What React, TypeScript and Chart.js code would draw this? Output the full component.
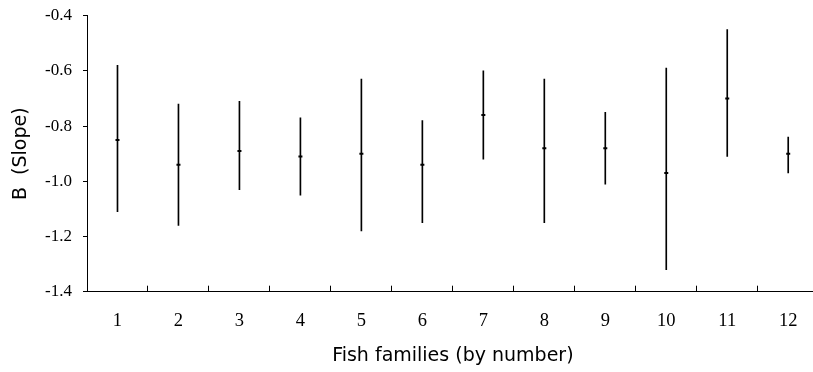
import React, { useEffect, useRef } from "react";
import { Chart, registerables } from "chart.js";

Chart.register(...registerables);

const families = ["1", "2", "3", "4", "5", "6", "7", "8", "9", "10", "11", "12"];
const meanSlope = [-0.85, -0.94, -0.89, -0.91, -0.9, -0.94, -0.76, -0.88, -0.88, -0.97, -0.7, -0.9];
const upperSlope = [-0.58, -0.72, -0.71, -0.77, -0.63, -0.78, -0.6, -0.63, -0.75, -0.59, -0.45, -0.84];
const lowerSlope = [-1.11, -1.16, -1.03, -1.05, -1.18, -1.15, -0.92, -1.15, -1.01, -1.32, -0.91, -0.97];
const yMin = -1.4;
const yMax = -0.4;
const yStep = 0.2;

export default function App() {
  const ref = useRef<HTMLCanvasElement | null>(null);

  useEffect(() => {
    if (!ref.current) return;
    const chart = new Chart(ref.current, {
      type: "bar",
      data: {
        labels: families,
        datasets: [
          {
            type: "bar",
            data: lowerSlope.map((lo, i) => [lo, upperSlope[i]]) as any,
            backgroundColor: "#000",
            borderWidth: 0,
            barThickness: 1,
          },
          {
            type: "line",
            data: meanSlope,
            showLine: false,
            pointStyle: "line",
            pointRadius: 2,
            pointBorderWidth: 2,
            borderColor: "#000",
            pointBorderColor: "#000",
            backgroundColor: "#000",
          } as any,
        ],
      },
      options: {
        animation: false,
        responsive: false,
        maintainAspectRatio: false,
        layout: { padding: { left: 0, right: 11.3, top: 15.7, bottom: 0 } },
        plugins: { legend: { display: false }, tooltip: { enabled: false } },
        scales: {
          x: {
            type: "category",
            offset: true,
            grid: {
              offset: true,
              drawOnChartArea: false,
              drawTicks: true,
              tickLength: -6,
              color: "#000",
            },
            border: { display: true, color: "#000", width: 1 },
            ticks: {
              color: "#000",
              font: { family: "'Liberation Serif', serif", size: 18.5 },
              padding: 24,
              maxRotation: 0,
            },
            title: {
              display: true,
              text: "Fish families (by number)",
              color: "#000",
              font: { family: "'DejaVu Sans', sans-serif", size: 19 },
              padding: { top: 0, bottom: 5 },
            },
            afterFit: (s: any) => {
              s.height = 80.3;
              s.paddingLeft = 0;
              s.paddingRight = 0;
            },
          },
          y: {
            min: yMin,
            max: yMax,
            grid: {
              drawOnChartArea: false,
              drawTicks: true,
              tickLength: 4,
              color: "#000",
            },
            border: { display: true, color: "#000", width: 1 },
            ticks: {
              stepSize: yStep,
              color: "#000",
              font: { family: "'Liberation Serif', serif", size: 17 },
              padding: 11,
              callback: (v: any) => Number(v).toFixed(1),
            },
            title: {
              display: true,
              text: "B  (Slope)",
              color: "#000",
              font: { family: "'DejaVu Sans', sans-serif", size: 19 },
              padding: { top: 10, bottom: 0 },
            },
            afterFit: (s: any) => {
              s.width = 87;
              s.paddingTop = 0;
              s.paddingBottom = 0;
            },
          },
        },
      },
    });
    return () => chart.destroy();
  }, []);

  return (
    <div style={{ position: "absolute", left: 0, top: 0, width: 813, height: 372, overflow: "hidden", background: "#fff" }}>
      <canvas ref={ref} width={830} height={372} style={{ width: 830, height: 372, display: "block" }} />
    </div>
  );
}
